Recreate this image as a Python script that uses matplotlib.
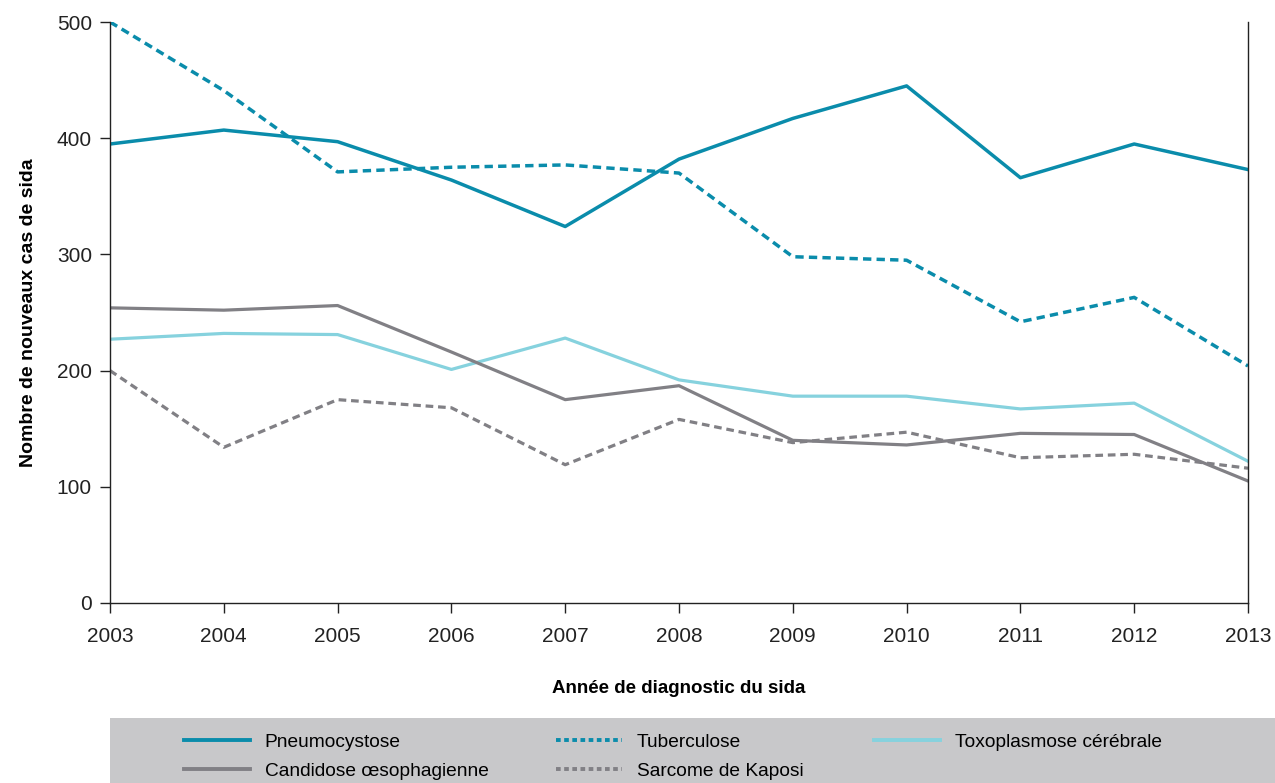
import matplotlib
matplotlib.use("Agg")
import matplotlib.pyplot as plt
from matplotlib.patches import Rectangle
from matplotlib.lines import Line2D

# data
years = [2003, 2004, 2005, 2006, 2007, 2008, 2009, 2010, 2011, 2012, 2013]
pneumocystose = [395, 407, 397, 364, 324, 382, 417, 445, 366, 395, 373]
tuberculose = [500, 441, 371, 375, 377, 370, 298, 295, 242, 263, 204]
toxoplasmose = [227, 232, 231, 201, 228, 192, 178, 178, 167, 172, 122]
candidose = [254, 252, 256, 216, 175, 187, 140, 136, 146, 145, 105]
kaposi = [200, 134, 175, 168, 119, 158, 138, 147, 125, 128, 116]

yticks = [0, 100, 200, 300, 400, 500]

TEAL = "#0a8cab"
CYAN = "#86d2de"
GREY = "#818085"

plt.rcParams['font.family'] = ['Liberation Sans', 'DejaVu Sans']

fig = plt.figure(figsize=(12.75, 7.83), dpi=100)
ax = fig.add_axes([110/1275, 1 - 603/783, (1248-110)/1275, (603-22)/783])

dash = (2.4, 1.5)
ax.plot(years, toxoplasmose, color=CYAN, lw=2.3)
ax.plot(years, kaposi, color=GREY, lw=2.3, dashes=dash)
ax.plot(years, candidose, color=GREY, lw=2.3)
ax.plot(years, tuberculose, color=TEAL, lw=2.5, dashes=dash)
ax.plot(years, pneumocystose, color=TEAL, lw=2.5)

ax.set_xlim(2003, 2013)
ax.set_ylim(0, 500)
ax.set_xticks(years)
ax.set_yticks(yticks)
ax.spines['top'].set_visible(False)
for s in ['left', 'right', 'bottom']:
    ax.spines[s].set_color('#222222')
    ax.spines[s].set_linewidth(1.0)
ax.tick_params(direction='out', length=7, width=1, colors='#222222',
               labelsize=15, pad=6)
ax.tick_params(axis='x', pad=10)

ax.set_ylabel("Nombre de nouveaux cas de sida", fontsize=14,
              fontweight='bold', labelpad=14)
ax.set_xlabel("Année de diagnostic du sida", fontsize=13.5,
              fontweight='bold', labelpad=25)

# grey legend band
fig.patches.append(Rectangle((110/1275, 0), 1 - 110/1275, 65/783,
                             transform=fig.transFigure, facecolor='#c8c8ca',
                             edgecolor='none', zorder=0))

legend_cols = [
    (183, [("Pneumocystose", TEAL, None), ("Candidose œsophagienne", GREY, None)]),
    (555, [("Tuberculose", TEAL, (1.2, 0.9)), ("Sarcome de Kaposi", GREY, (1.2, 0.9))]),
    (873, [("Toxoplasmose cérébrale", CYAN, None)]),
]
for x0, items in legend_cols:
    handles = []
    for label, col, d in items:
        if d is None:
            h = Line2D([], [], color=col, lw=2.8, label=label)
        else:
            h = Line2D([], [], color=col, lw=2.8, dashes=d, label=label)
        handles.append(h)
    fig.legend(handles=handles, loc='upper left',
               bbox_to_anchor=((x0 - 14) / 1275, 1 - 718/783),
               frameon=False, fontsize=13.8, handlelength=3.4,
               handletextpad=0.8, labelspacing=0.6, borderpad=0.3)

fig.savefig("out.png", dpi=100)
